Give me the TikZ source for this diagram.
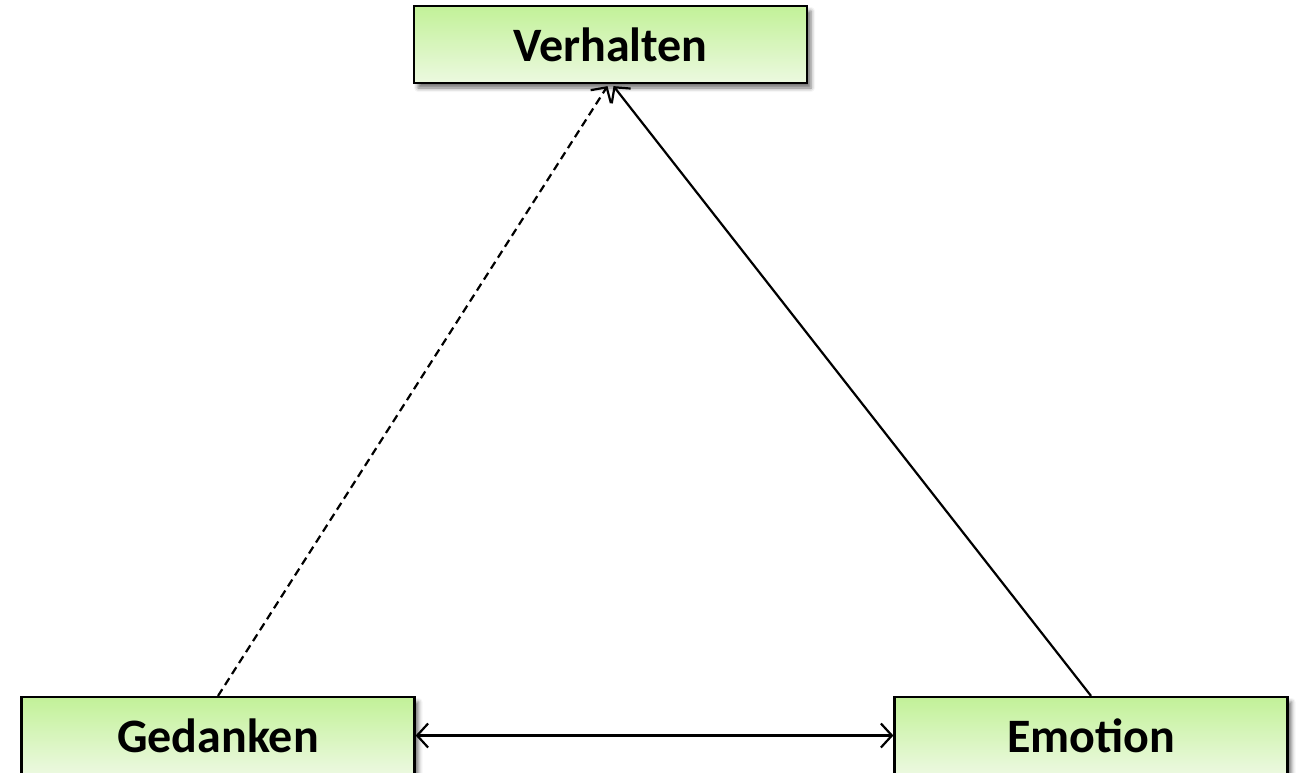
\documentclass[tikz,border=0pt]{standalone}
\usepackage{fontspec}
\setmainfont{Carlito}
\usetikzlibrary{arrows.meta,shadows.blur,calc}
\definecolor{boxtop}{RGB}{194,241,152}
\definecolor{boxbot}{RGB}{236,249,224}
\tikzset{
  barb/.tip={Straight Barb[length=11pt,width=24pt,line width=2.2pt]},
  conceptbox/.style={draw=black, line width=2.2pt, minimum width=393pt, minimum height=77pt,
    top color=boxtop, bottom color=boxbot, inner sep=0pt,
    font=\fontsize{48}{54}\selectfont\bfseries,
    blur shadow={shadow xshift=4pt, shadow yshift=-5pt, shadow blur radius=4pt, shadow opacity=55}},
  link/.style={line width=2.2pt, -{barb}},
  dashedlink/.style={link, dash pattern=on 8pt off 5pt},
  twoway/.style={line width=2.2pt, {barb}-{barb}}
}
\begin{document}
\begin{tikzpicture}[x=1pt,y=-1pt]
\useasboundingbox (0,0) rectangle (1298,772);
\node[conceptbox] (ver) at (610.5,44.5) {Verhalten};
\node[conceptbox] (ged) at (218,735.5) {Gedanken};
\node[conceptbox] (emo) at (1091,735.5) {Emotion};
\draw[dashedlink] (ged.north) -- ($(ver.south)+(-3,2)$);
\draw[link] (emo.north) -- ($(ver.south)+(3,2)$);
\draw[twoway] (ged.east) -- (emo.west);
\end{tikzpicture}
\end{document}
